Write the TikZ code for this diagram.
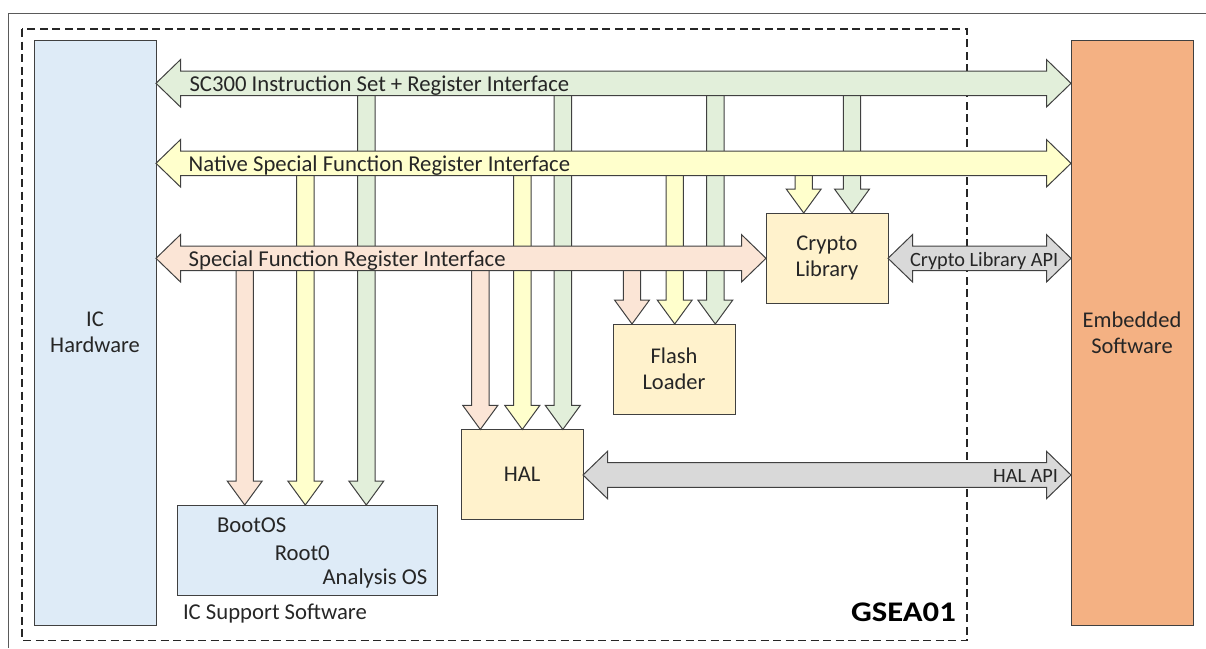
\documentclass[tikz,border=0pt]{standalone}
\usepackage{fontspec}
\setmainfont{Carlito}
\usetikzlibrary{calc}

\definecolor{busgreen}{HTML}{E2EFDA}
\definecolor{busyellow}{HTML}{FFFFCC}
\definecolor{buspeach}{HTML}{FBE5D6}
\definecolor{apigray}{HTML}{D9D9D9}
\definecolor{hwblue}{HTML}{DEEBF7}
\definecolor{swgold}{HTML}{FFF2CC}
\definecolor{embor}{HTML}{F4B183}
\definecolor{edge}{HTML}{404040}
\definecolor{ink}{HTML}{262626}
\definecolor{frame}{HTML}{5A5A5A}

% block-arrow geometry (horizontal buses / vertical feeds)
\def\hsw{12.3pt}\def\hhw{23.7pt}\def\hhl{24.5pt}
\def\vsw{8.7pt}\def\vhw{17.5pt}\def\vhl{24pt}

\tikzset{
  blk/.style={draw=edge, line width=1pt, line join=miter},
  % double-headed horizontal block arrow between two points on one row
  hblk/.style={blk, fill=#1, to path={
    let \p1=(\tikztostart), \p2=(\tikztotarget) in
    (\x1,\y1) -- (\x1+\hhl,\y1+\hhw) -- (\x1+\hhl,\y1+\hsw) -- (\x2-\hhl,\y1+\hsw)
    -- (\x2-\hhl,\y1+\hhw) -- (\x2,\y1) -- (\x2-\hhl,\y1-\hhw) -- (\x2-\hhl,\y1-\hsw)
    -- (\x1+\hhl,\y1-\hsw) -- (\x1+\hhl,\y1-\hhw) -- cycle}},
  % downward single-headed block arrow
  vblk/.style={blk, fill=#1, to path={
    let \p1=(\tikztostart), \p2=(\tikztotarget) in
    (\x1-\vsw,\y1) -- (\x1-\vsw,\y2+\vhl) -- (\x1-\vhw,\y2+\vhl) -- (\x1,\y2)
    -- (\x1+\vhw,\y2+\vhl) -- (\x1+\vsw,\y2+\vhl) -- (\x1+\vsw,\y1) -- cycle}},
  box/.style={draw=edge, line width=1pt, inner sep=0pt, outer sep=0pt,
    text=ink, align=center, font=\fontsize{22.5}{25.7}\selectfont},
  lbl/.style={inner sep=0pt, outer sep=0pt, text=ink, anchor=base west,
    font=\fontsize{22.7}{26}\selectfont},
  smalllbl/.style={inner sep=0pt, outer sep=0pt, text=ink,
    font=\fontsize{20.3}{24}\selectfont},
}

\begin{document}
\begin{tikzpicture}[x=1pt, y=-1pt]
\useasboundingbox (0,0) rectangle (1206,648);

% outer frame and the dashed product boundary
\draw[frame, line width=1.3pt] (8.7,648) -- (8.7,13.3) -- (1206,13.3);
\draw[black!85, line width=1.1pt, dash pattern=on 8pt off 4.5pt] (22,29) rectangle (967,640.5);

% blocks
\node[box, fill=hwblue, minimum width=122pt, minimum height=585pt] (ich) at (95,332.5) {IC\\Hardware};
\node[box, fill=embor, minimum width=122pt, minimum height=585pt] (emb) at (1132,332.5) {Embedded\\Software};
\node[box, fill=swgold, minimum width=122pt, minimum height=90pt] (crypto) at (827,258) {Crypto\\Library};
\node[box, fill=swgold, minimum width=122pt, minimum height=90pt] (flash) at (674,369) {Flash\\Loader};
\node[box, fill=swgold, minimum width=122pt, minimum height=90.5pt] (hal) at (522,474.7) {HAL};
\node[box, fill=hwblue, minimum width=260pt, minimum height=90pt] (boot) at (307,550) {};

% bus rows
\coordinate (r1) at (0,83.3);
\coordinate (r2) at (0,163.3);
\coordinate (r3) at (0,258.3);
\coordinate (r4) at (0,475);

% feed points on the buses
\coordinate (fb3) at (244.7,258.3);
\coordinate (fb2) at (305.3,163.3);
\coordinate (fb1) at (366.3,83.3);
\coordinate (fh3) at (480.3,258.3);
\coordinate (fh2) at (522.3,163.3);
\coordinate (fh1) at (562.8,83.3);
\coordinate (ff3) at (632,258.3);
\coordinate (ff2) at (674.7,163.3);
\coordinate (ff1) at (715.3,83.3);
\coordinate (fc2) at (803.7,163.3);
\coordinate (fc1) at (852,83.3);

% feeds into the software blocks (drawn beneath the buses)
\path[vblk=buspeach]  (fb3) to (boot.north -| fb3);
\path[vblk=busyellow] (fb2) to (boot.north -| fb2);
\path[vblk=busgreen]  (fb1) to (boot.north -| fb1);
\path[vblk=buspeach]  (fh3) to (hal.north -| fh3);
\path[vblk=busyellow] (fh2) to (hal.north -| fh2);
\path[vblk=busgreen]  (fh1) to (hal.north -| fh1);
\path[vblk=buspeach]  (ff3) to (flash.north -| ff3);
\path[vblk=busyellow] (ff2) to (flash.north -| ff2);
\path[vblk=busgreen]  (ff1) to (flash.north -| ff1);
\path[vblk=busyellow] (fc2) to (crypto.north -| fc2);
\path[vblk=busgreen]  (fc1) to (crypto.north -| fc1);

% buses
\path[hblk=busgreen]  (ich.east |- r1) to (emb.west |- r1);
\path[hblk=busyellow] (ich.east |- r2) to (emb.west |- r2);
\path[hblk=buspeach]  (ich.east |- r3) to (crypto.west |- r3);
\path[hblk=apigray]   (crypto.east |- r3) to (emb.west |- r3);
\path[hblk=apigray]   (hal.east |- r4) to (emb.west |- r4);

% bus labels
\node[lbl] (t1) at (189.5,91.7) {SC300 Instruction Set + Register Interface};
\node[lbl] (t2) at (188.7,171.7) {Native Special Function Register Interface};
\node[lbl] (t3) at (188.7,266.7) {Special Function Register Interface};
\node[smalllbl, anchor=base west] (t4) at (910,266.7) {Crypto Library API};
\node[smalllbl, anchor=base east] (t5) at (1058,482.7) {HAL API};

% IC support software contents
\node[lbl] (bo) at (217,532.7) {BootOS};
\node[lbl] (ro) at (274.8,560) {Root0};
\node[lbl] (ao) at (322.6,584) {Analysis OS};
\node[lbl] (ics) at (183,619.3) {IC Support Software};

% product name
\node[inner sep=0pt, anchor=base east, text=black, font=\fontsize{28.4}{30}\selectfont\bfseries] (gsea) at (956,621.7) {\scalebox{1.15}[1]{GSEA01}};
\end{tikzpicture}
\end{document}
